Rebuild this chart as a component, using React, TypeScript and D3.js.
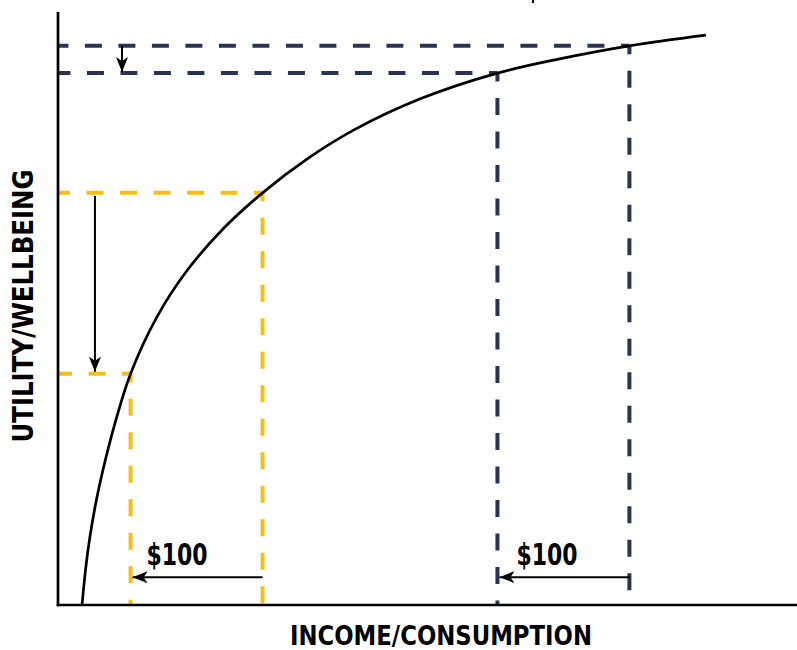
import React from "react";
import * as d3 from "d3";

// ---- data ----
const curveIncome = [18.2, 21, 24.2, 29, 34.1, 43, 55, 75, 97.8, 125, 155, 190, 225, 275, 333, 380, 433, 491];
const curveUtility = [0, 6.2, 11.5, 17.6, 22.8, 30.5, 39, 48.6, 56.4, 63.4, 69.5, 75.4, 80.2, 85.4, 89.7, 92.1, 94.3, 96.1];

const yellowIncome = [55, 155];
const yellowUtility = [39, 69.5];
const navyIncome = [333, 433];
const navyUtility = [89.7, 94.3];

const gapLabel = "$100";
const xAxisLabel = "INCOME/CONSUMPTION";
const yAxisLabel = "UTILITY/WELLBEING";

const W = 797;
const H = 650;
const YELLOW = "#F4C016";
const NAVY = "#2B3350";
const FONT = "'Liberation Sans Narrow', 'DejaVu Sans Condensed', 'Roboto', sans-serif";

export default function App() {
  const x = d3.scaleLinear().domain([0, 560]).range([58, 797]);
  const y = d3.scaleLinear().domain([0, 100]).range([605, 12]);

  const pts: [number, number][] = curveIncome.map((v, i) => [v, curveUtility[i]]);
  const line = d3
    .line<[number, number]>()
    .x((d) => x(d[0]))
    .y((d) => y(d[1]))
    .curve(d3.curveCatmullRom.alpha(0.5));

  const dash = "17 16.5";
  const renderGuides = (incs: number[], utils: number[], color: string, key: string) =>
    incs.map((inc, i) => {
      const cx = x(inc);
      const cy = y(utils[i]);
      return (
        <g key={key + i}>
          <line x1={cx} y1={cy} x2={x(0)} y2={cy} stroke={color} strokeWidth={4} strokeDasharray={dash} strokeDashoffset={8.5} />
          <line x1={cx} y1={cy} x2={cx} y2={y(0)} stroke={color} strokeWidth={4} strokeDasharray={dash} strokeDashoffset={8.5} />
        </g>
      );
    });

  // annotation arrows (positions in data units)
  const navyArrowIncome = 48.5;
  const yellowArrowIncome = 28;
  const gapArrowUtility = 4.7;
  const gapLabelUtility = 6.8;

  return (
    <div style={{ position: "absolute", left: 0, top: 0 }}>
      <svg width={W} height={H} viewBox={`0 0 ${W} ${H}`} style={{ display: "block", background: "#fff" }}>
        <defs>
          <marker id="ah" markerUnits="userSpaceOnUse" markerWidth={16} markerHeight={14} refX={15} refY={7} orient="auto">
            <path d="M0,1 L15,7 L0,13 L4,7 Z" fill="#000" />
          </marker>
        </defs>

        {renderGuides(yellowIncome, yellowUtility, YELLOW, "y")}
        {renderGuides(navyIncome, navyUtility, NAVY, "n")}

        {/* axes */}
        <line x1={x(0)} y1={y(100)} x2={x(0)} y2={y(0) + 1.3} stroke="#000" strokeWidth={2.7} />
        <line x1={x(0) - 1.3} y1={y(0)} x2={x(560)} y2={y(0)} stroke="#000" strokeWidth={2.7} />

        {/* curve */}
        <path d={line(pts) || ""} fill="none" stroke="#000" strokeWidth={2.7} />

        {/* vertical drop arrows */}
        <line x1={x(navyArrowIncome)} y1={y(navyUtility[1])} x2={x(navyArrowIncome)} y2={y(navyUtility[0]) - 1} stroke="#000" strokeWidth={2} markerEnd="url(#ah)" />
        <line x1={x(yellowArrowIncome)} y1={y(yellowUtility[1]) + 3} x2={x(yellowArrowIncome)} y2={y(yellowUtility[0]) - 2} stroke="#000" strokeWidth={2} markerEnd="url(#ah)" />

        {/* $100 arrows */}
        <line x1={x(yellowIncome[1])} y1={y(gapArrowUtility)} x2={x(yellowIncome[0]) + 2} y2={y(gapArrowUtility)} stroke="#000" strokeWidth={2} markerEnd="url(#ah)" />
        <line x1={x(navyIncome[1])} y1={y(gapArrowUtility)} x2={x(navyIncome[0]) + 2} y2={y(gapArrowUtility)} stroke="#000" strokeWidth={2} markerEnd="url(#ah)" />

        <text x={x(yellowIncome[0]) + 16} y={y(gapLabelUtility)} fontFamily={FONT} fontWeight="bold" fontSize={31} textLength={61} lengthAdjust="spacingAndGlyphs" fill="#000">
          {gapLabel}
        </text>
        <text x={x(navyIncome[0]) + 19} y={y(gapLabelUtility)} fontFamily={FONT} fontWeight="bold" fontSize={31} textLength={61} lengthAdjust="spacingAndGlyphs" fill="#000">
          {gapLabel}
        </text>

        {/* axis titles */}
        <text x={441} y={645} textAnchor="middle" fontFamily={FONT} fontWeight="bold" fontSize={26.5} textLength={302} lengthAdjust="spacingAndGlyphs" fill="#000">
          {xAxisLabel}
        </text>
        <text transform="translate(33,306) rotate(-90)" textAnchor="middle" fontFamily={FONT} fontWeight="bold" fontSize={27.5} textLength={273} lengthAdjust="spacingAndGlyphs" fill="#000">
          {yAxisLabel}
        </text>

        {/* small stray tick at top edge */}
        <line x1={533} y1={0} x2={533} y2={3} stroke="#000" strokeWidth={2} />
      </svg>
    </div>
  );
}
